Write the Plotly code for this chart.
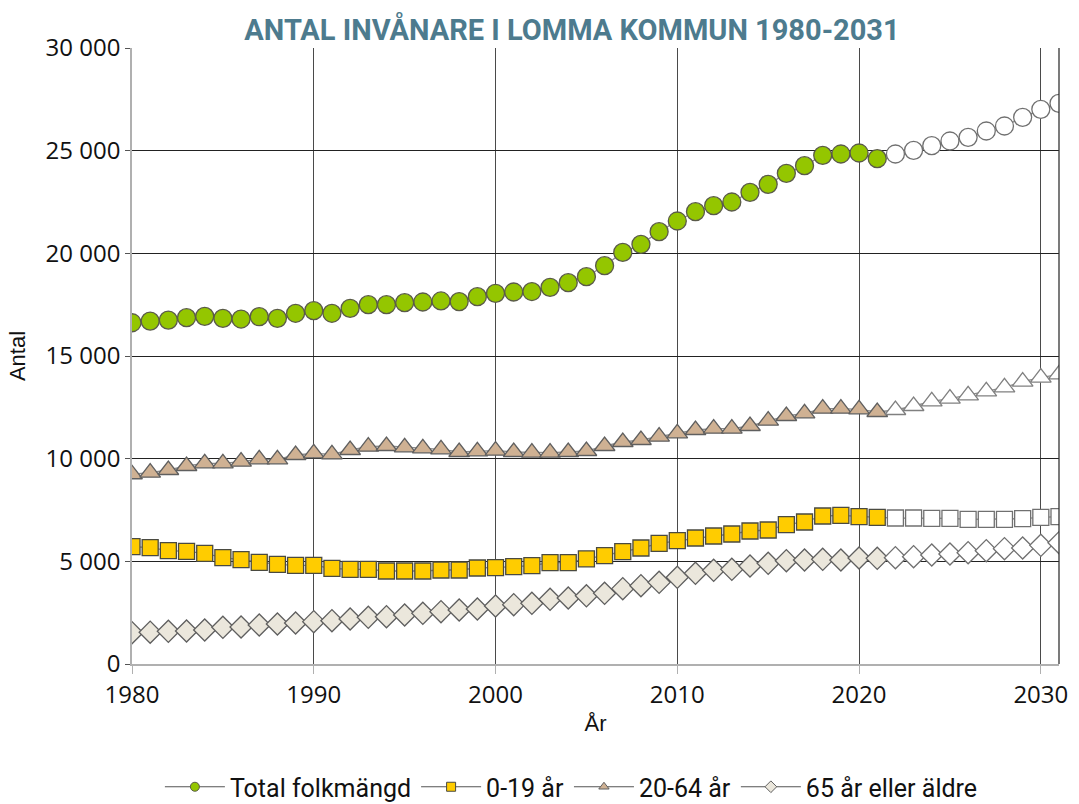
import plotly.graph_objects as go

years = list(range(1980, 2032))
first_projection_year = 2022

total = [16620, 16700, 16750, 16866, 16930, 16835, 16800, 16915, 16835, 17080,
         17207, 17080, 17320, 17500, 17500, 17597, 17630, 17680, 17650, 17890,
         18052, 18117, 18140, 18344, 18571, 18863, 19398, 20049, 20439, 21055,
         21575, 22029, 22321, 22500, 22971, 23360, 23896, 24269, 24773, 24838,
         24886, 24610, 24838, 25016, 25244, 25471, 25649, 25958, 26201, 26623,
         27013, 27305]
age_0_19 = [5714, 5666, 5519, 5487, 5390, 5178, 5081, 4951, 4854, 4805,
            4805, 4659, 4610, 4610, 4529, 4529, 4529, 4578, 4578, 4675,
            4690, 4740, 4790, 4935, 4935, 5120, 5276, 5470, 5649, 5877,
            6006, 6136, 6234, 6331, 6477, 6526, 6785, 6916, 7208, 7241,
            7175, 7143, 7110, 7110, 7094, 7094, 7045, 7045, 7045, 7078,
            7143, 7175]
age_20_64 = [9240, 9318, 9448, 9643, 9773, 9773, 9854, 9968, 9968, 10179,
             10260, 10211, 10422, 10584, 10617, 10552, 10503, 10455, 10325, 10357,
             10390, 10325, 10292, 10292, 10325, 10373, 10617, 10812, 10909, 11071,
             11234, 11396, 11461, 11461, 11591, 11850, 12078, 12208, 12435, 12435,
             12403, 12273, 12370, 12565, 12792, 12922, 13084, 13279, 13474, 13750,
             13945, 14107]
age_65_plus = [1526, 1550, 1591, 1608, 1656, 1786, 1802, 1899, 1948, 1997,
               2062, 2110, 2192, 2273, 2305, 2386, 2468, 2549, 2630, 2679,
               2825, 2890, 2955, 3150, 3214, 3320, 3442, 3669, 3815, 3977,
               4221, 4416, 4562, 4610, 4773, 4903, 5032, 5065, 5097, 5065,
               5162, 5146, 5178, 5227, 5308, 5357, 5422, 5519, 5617, 5649,
               5779, 5909]

series_names = ["Total folkmängd", "0-19 år", "20-64 år", "65 år eller äldre"]
x_ticks = [1980, 1990, 2000, 2010, 2020, 2030]
y_ticks = [0, 5000, 10000, 15000, 20000, 25000, 30000]
y_tick_labels = ["0", "5 000", "10 000", "15 000", "20 000", "25 000", "30 000"]

styles = [
    dict(values=total, symbol="circle", size=18, fill="#94c600", edge="#5a5a4a", pedge="#707070"),
    dict(values=age_0_19, symbol="square", size=16, fill="#ffcc00", edge="#4a4a40", pedge="#707070"),
    dict(values=age_20_64, symbol="triangle-up", size=18, fill="#cfb193", edge="#5f5f5f", pedge="#808080"),
    dict(values=age_65_plus, symbol="diamond", size=17, fill="#ebe7dc", edge="#5f5f5f", pedge="#707070"),
]

fig = go.Figure()
for name, st in zip(series_names, styles):
    fills = [st["fill"] if y < first_projection_year else "#ffffff" for y in years]
    edges = [st["edge"] if y < first_projection_year else st["pedge"] for y in years]
    fig.add_trace(go.Scatter(
        x=years, y=st["values"], mode="lines+markers", name=name, showlegend=False,
        line=dict(color="#8a8a8a", width=1.3),
        marker=dict(symbol=st["symbol"], size=st["size"], color=fills,
                    line=dict(color=edges, width=1.3)),
    ))

for name, st in zip(series_names, styles):
    fig.add_trace(go.Scatter(
        x=[None], y=[None], mode="lines+markers", name=name, showlegend=True,
        line=dict(color="#555555", width=1),
        marker=dict(symbol=st["symbol"], size=9, color=st["fill"],
                    line=dict(color=st["edge"], width=1)),
    ))

fig.add_shape(type="line", xref="x domain", yref="y domain", x0=1, x1=1, y0=0, y1=1,
              line=dict(color="#333333", width=1.3), layer="above")

fig.update_layout(
    width=1079, height=804,
    margin=dict(l=132, r=20, t=48, b=140, autoexpand=False),
    paper_bgcolor="white", plot_bgcolor="white",
    title=dict(text="<b>ANTAL INVÅNARE I LOMMA KOMMUN 1980-2031</b>",
               font=dict(family="Liberation Sans Narrow, Roboto, sans-serif", size=29, color="#4d7b8e"),
               x=572 / 1079, xref="container", xanchor="center",
               y=1 - 30 / 804, yref="container", yanchor="middle"),
    showlegend=True,
    legend=dict(orientation="h", x=0.474, xanchor="center",
                y=17 / 804, yref="container", yanchor="middle",
                font=dict(family="Liberation Sans Narrow, Roboto, sans-serif", size=25, color="#111111"),
                itemwidth=60, tracegroupgap=0, bgcolor="rgba(0,0,0,0)"),
    font=dict(family="Open Sans, sans-serif", color="#111111"),
)

fig.update_xaxes(
    range=[1980, 2031], tickvals=x_ticks, tickfont=dict(size=24, family="Open Sans, sans-serif"),
    showgrid=True, gridcolor="#4a4a4a", gridwidth=1.3,
    showline=True, linecolor="#b0b0b0", linewidth=1.5,
    ticks="outside", ticklen=8, tickcolor="#b0b0b0", tickwidth=1.3,
    zeroline=False,
    title=dict(text="År", font=dict(family="Liberation Sans, Arial, sans-serif", size=22), standoff=7),
)
fig.update_yaxes(
    range=[0, 30000], tickvals=y_ticks, ticktext=y_tick_labels,
    tickfont=dict(size=24, family="Open Sans, sans-serif"),
    showgrid=True, gridcolor="#222222", gridwidth=1.3,
    showline=True, linecolor="#b0b0b0", linewidth=1.5,
    ticks="outside", ticklen=5, tickcolor="#555555", tickwidth=1,
    zeroline=False,
    title=dict(text="Antal", font=dict(family="Liberation Sans, Arial, sans-serif", size=22), standoff=14),
)

fig.write_html("out.html", config={"displayModeBar": False},
               post_script="document.body.style.margin='0';document.body.style.overflow='hidden';")
